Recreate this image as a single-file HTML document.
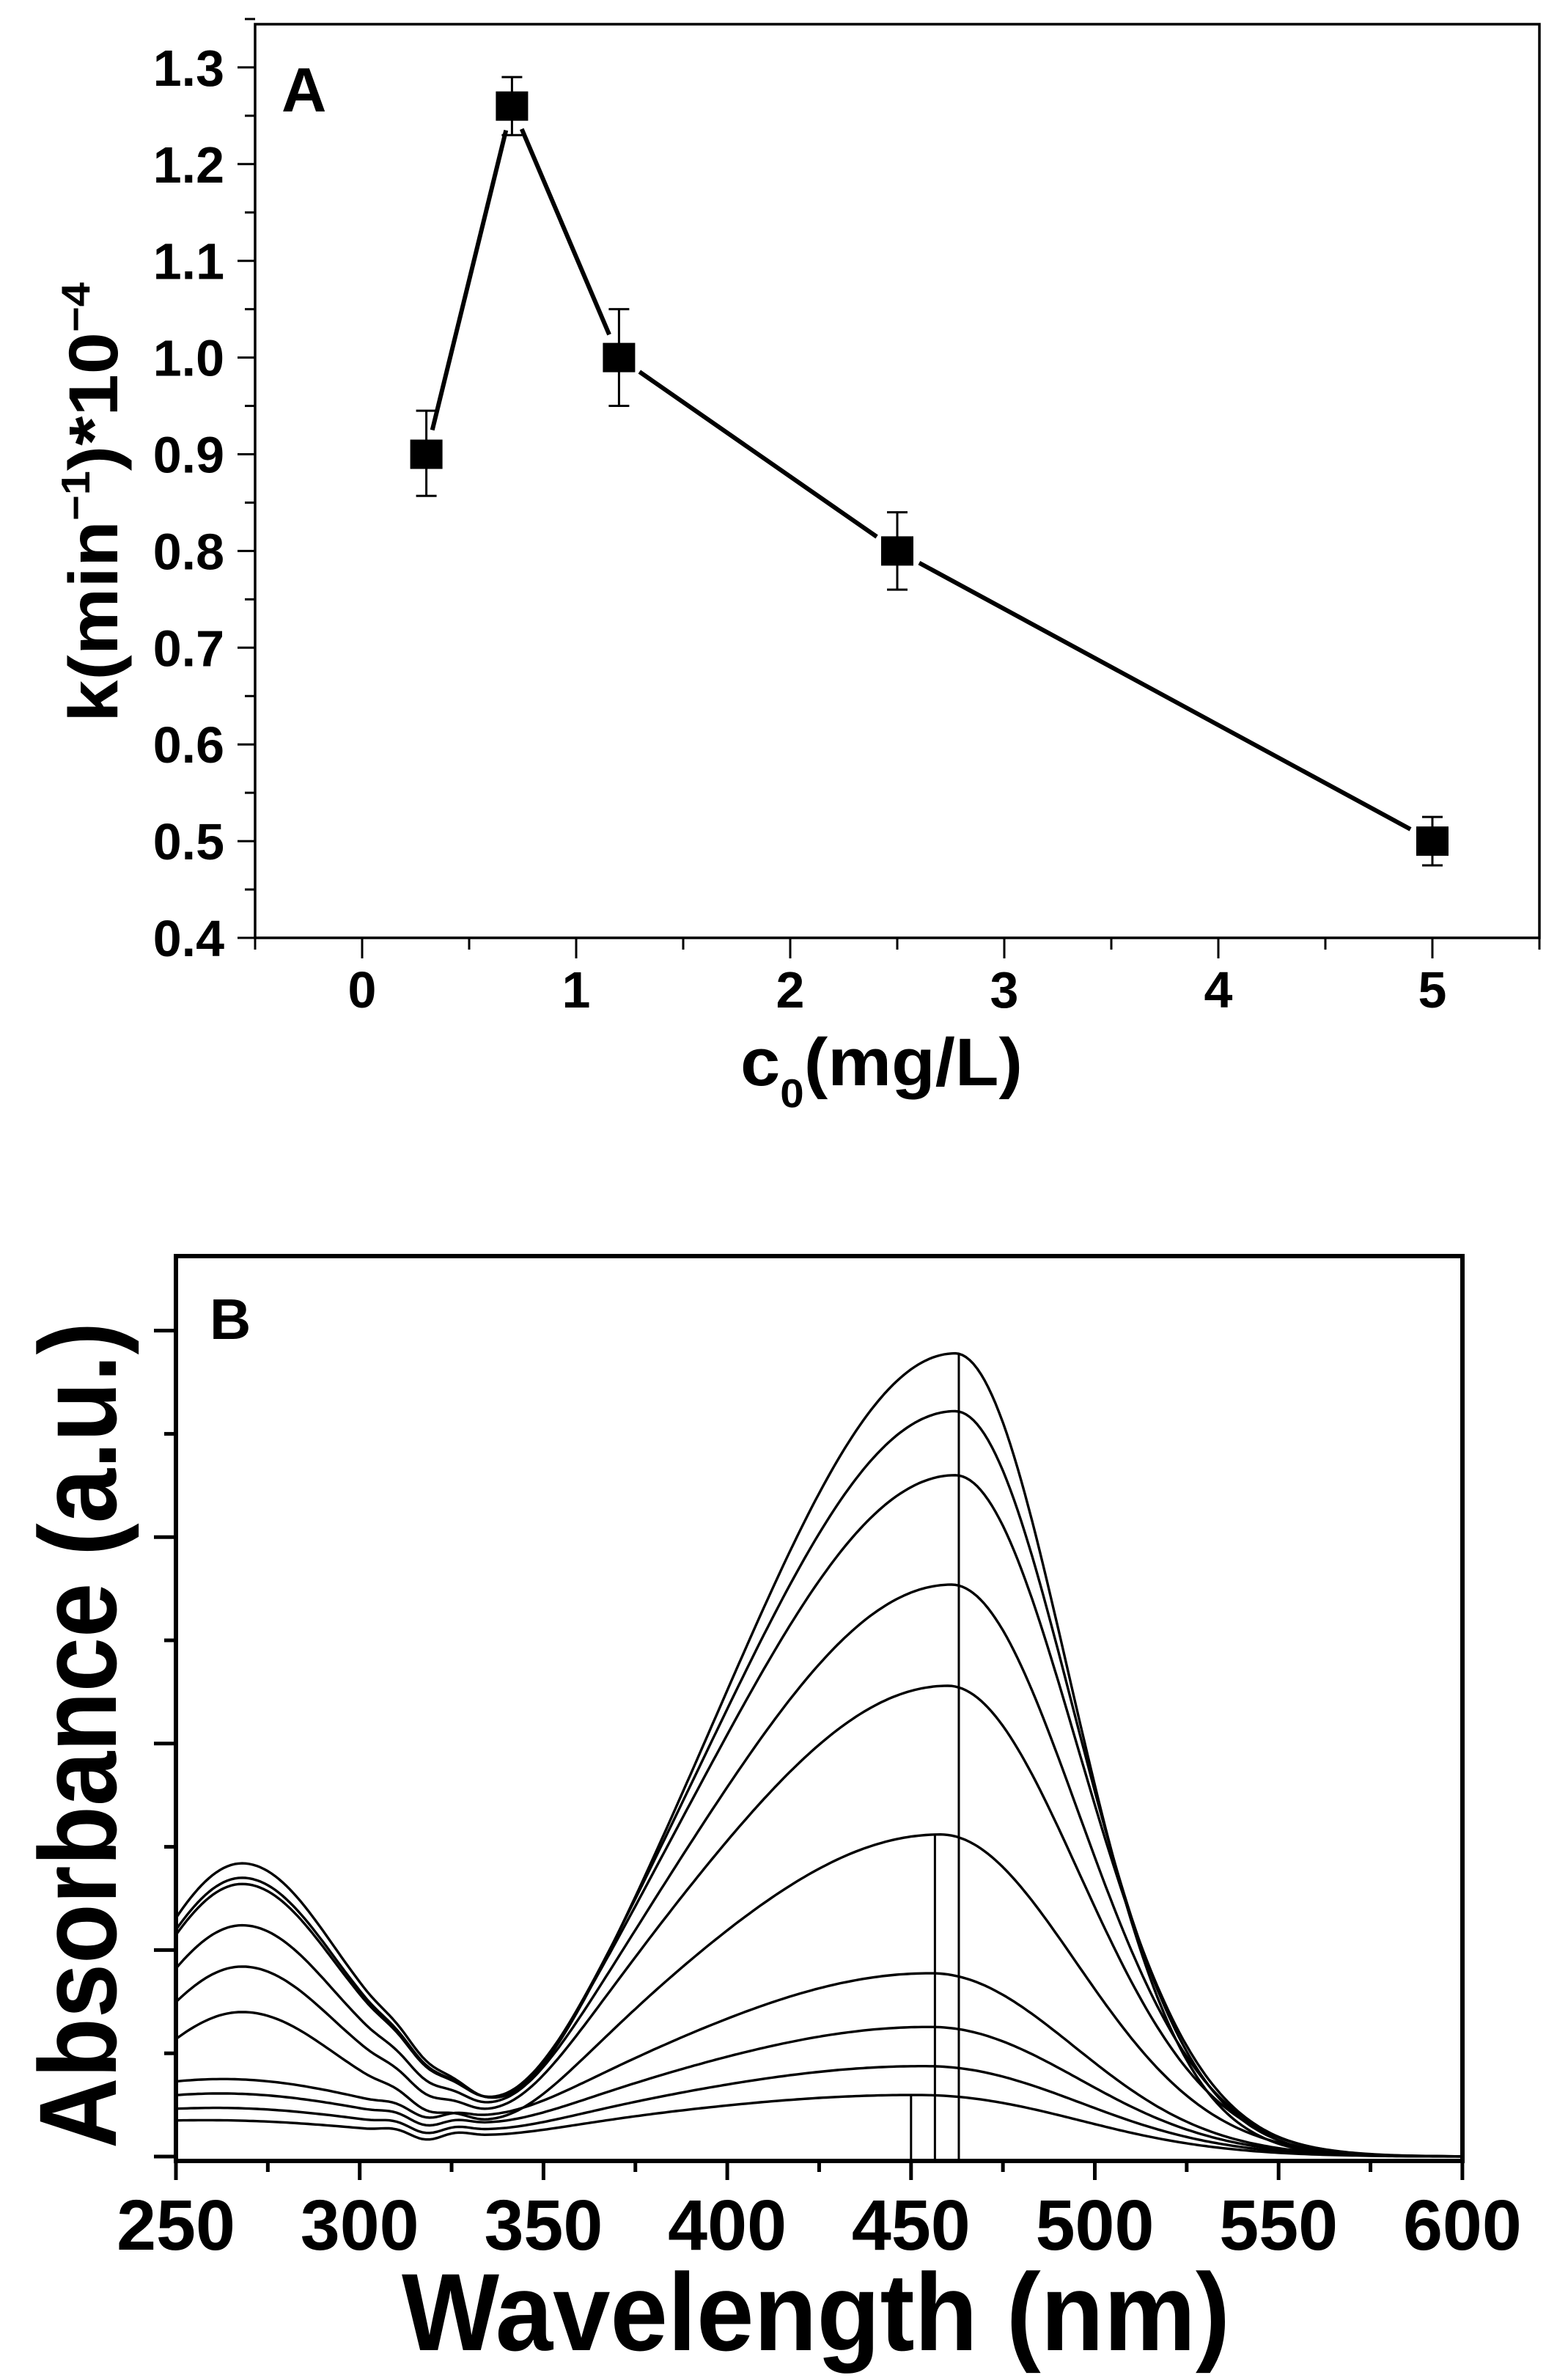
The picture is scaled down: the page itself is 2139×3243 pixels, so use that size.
<!DOCTYPE html>
<html><head><meta charset="utf-8"><style>
html,body{margin:0;padding:0;background:#fff;}
svg{display:block;}
text{font-family:"Liberation Sans",Arial,sans-serif;font-weight:bold;fill:#000;}
</style></head><body>
<svg id="s" width="2139" height="3243" viewBox="0 0 2139 3243" xmlns="http://www.w3.org/2000/svg">
<rect width="2139" height="3243" fill="#fff"/>
<g id="A"></g>
<g id="B"></g>
<text x="384" y="152" font-size="85">A</text>
<text x="286" y="1826" font-size="78">B</text>
<text transform="translate(160,985) rotate(-90)" font-size="95" textLength="600" lengthAdjust="spacingAndGlyphs">k(min<tspan font-size="55" dy="-38">−1</tspan><tspan dy="38">)*10</tspan><tspan font-size="55" dy="-38">−4</tspan></text>
<text x="1010" y="1480" font-size="92" textLength="385" lengthAdjust="spacingAndGlyphs">c<tspan font-size="55" dy="30">0</tspan><tspan dy="-30">(mg/L)</tspan></text>
<text transform="translate(158,2930) rotate(-90)" font-size="150" textLength="1127" lengthAdjust="spacingAndGlyphs">Absorbance (a.u.)</text>
<text x="548" y="3205" font-size="150" textLength="1130" lengthAdjust="spacingAndGlyphs">Wavelength (nm)</text>
</svg>
<script>
var NS="http://www.w3.org/2000/svg";
function el(p,t,a,txt){var e=document.createElementNS(NS,t);for(var k in a)e.setAttribute(k,a[k]);if(txt!==undefined)e.textContent=txt;p.appendChild(e);return e;}
var A=document.getElementById('A');
var L=348,R=2100,T=33,Bt=1279;
function ax(x){return 494+x*292;}
function ay(v){return Bt-(v-0.4)*1319;}
el(A,'rect',{x:L,y:T,width:R-L,height:Bt-T,fill:'none',stroke:'#000','stroke-width':3.5});
for(var v=0.4;v<1.351;v+=0.05){var y=ay(v);var maj=Math.abs(Math.round(v*10)-v*10)<0.01;
 el(A,'line',{x1:L,y1:y,x2:L-(maj?24:14),y2:y,stroke:'#000','stroke-width':3});
 if(maj) el(A,'text',{x:306,y:y+25,'font-size':70,'text-anchor':'end'},(Math.round(v*10)/10).toFixed(1));}
for(var x=-0.5;x<=5.51;x+=0.5){var X=ax(x);var maj=Math.abs(x-Math.round(x))<0.01;
 el(A,'line',{x1:X,y1:Bt,x2:X,y2:Bt+(maj?28:16),stroke:'#000','stroke-width':3});
 if(maj&&x>=0) el(A,'text',{x:X,y:1374,'font-size':70,'text-anchor':'middle'},String(Math.round(x)));}
var d=[[0.3,0.9,0.945,0.857],[0.7,1.26,1.29,1.23],[1.2,1.0,1.05,0.95],[2.5,0.8,0.84,0.76],[5,0.5,0.525,0.475]];
for(var i=0;i<d.length-1;i++){var x1=ax(d[i][0]),y1=ay(d[i][1]),x2=ax(d[i+1][0]),y2=ay(d[i+1][1]);
 var dx=x2-x1,dy=y2-y1,l=Math.sqrt(dx*dx+dy*dy),g=34;
 el(A,'line',{x1:x1+dx/l*g,y1:y1+dy/l*g,x2:x2-dx/l*g,y2:y2-dy/l*g,stroke:'#000','stroke-width':6});}
d.forEach(function(p){var X=ax(p[0]);
 el(A,'line',{x1:X,y1:ay(p[2]),x2:X,y2:ay(p[3]),stroke:'#000','stroke-width':3});
 el(A,'line',{x1:X-14,y1:ay(p[2]),x2:X+14,y2:ay(p[2]),stroke:'#000','stroke-width':3});
 el(A,'line',{x1:X-14,y1:ay(p[3]),x2:X+14,y2:ay(p[3]),stroke:'#000','stroke-width':3});
 el(A,'rect',{x:X-22,y:ay(p[1])-20,width:44,height:40,fill:'#000'});});
var B=document.getElementById('B');
var BL=240,BR=1995,BT=1713,BB=2947;
function bx(w){return BL+(w-250)*5.014;}
function by(a){return 2941-a*281.6;}
el(B,'rect',{x:BL,y:BT,width:BR-BL,height:BB-BT,fill:'none',stroke:'#000','stroke-width':6});
for(var k=0;k<=8;k++){var y=by(k*0.5);if(y<BT)break;
 el(B,'line',{x1:BL,y1:y,x2:BL-(k%2==0?30:16),y2:y,stroke:'#000','stroke-width':5});}
for(var w=250;w<=600;w+=25){var X=bx(w);var maj=w%50==0;
 el(B,'line',{x1:X,y1:BB,x2:X,y2:BB+(maj?26:15),stroke:'#000','stroke-width':5});
 if(maj) el(B,'text',{x:X,y:3068,'font-size':97,'text-anchor':'middle'},String(w));}
var P=[3.89,3.61,3.30,2.77,2.28,1.56,0.89,0.63,0.44,0.30];
var C=[462,462,462,461,460,458,456,456,455,453];
var U=[1.44,1.37,1.34,1.14,0.94,0.72,0.42,0.35,0.28,0.22];
function curve(i,w){
  var f=i/9, sl=60+f*18, sr=30.6+f*11, low=i>=6;
  var amp=low?P[i]-0.05:P[i];
  var vis=amp*Math.exp(-Math.pow(w-C[i],2)/(2*Math.pow(w<C[i]?sl:sr,2)));
  vis*=1/(1+Math.exp(-(w-345)/12));
  var uv;
  if(!low){var s=w<268?28:30;uv=(U[i]-0.02)*Math.exp(-Math.pow(w-268,2)/(2*s*s))
     +0.12*(U[i]/1.44)*Math.exp(-Math.pow(w-318,2)/(2*12*12));}
  else{uv=(U[i]-0.12)*Math.exp(-Math.pow(w-265,2)/(2*45*45))+0.05/(1+Math.exp((w-500)/15))+0.03*Math.max(0,(340-w)/90);}
  var wig=0;if(w>300&&w<336){var t=(w-300)/36;wig=0.03*Math.sin(t*Math.PI*3)*Math.pow(Math.sin(t*Math.PI),2);}
  return vis+uv+wig;}
for(var i=0;i<10;i++){var pts=[];
 for(var w=250;w<=600;w+=1){pts.push(bx(w).toFixed(1)+','+by(curve(i,w)).toFixed(1));}
 el(B,'polyline',{points:pts.join(' '),fill:'none',stroke:'#000','stroke-width':3.4,'stroke-linejoin':'round'});}
el(B,'line',{x1:bx(463),y1:by(curve(0,463)),x2:bx(463),y2:BB,stroke:'#000','stroke-width':3});
el(B,'line',{x1:bx(456.5),y1:by(curve(5,456.5)),x2:bx(456.5),y2:BB,stroke:'#000','stroke-width':3});
el(B,'line',{x1:bx(450),y1:by(curve(9,450)),x2:bx(450),y2:BB,stroke:'#000','stroke-width':3});
</script>
</body></html>
